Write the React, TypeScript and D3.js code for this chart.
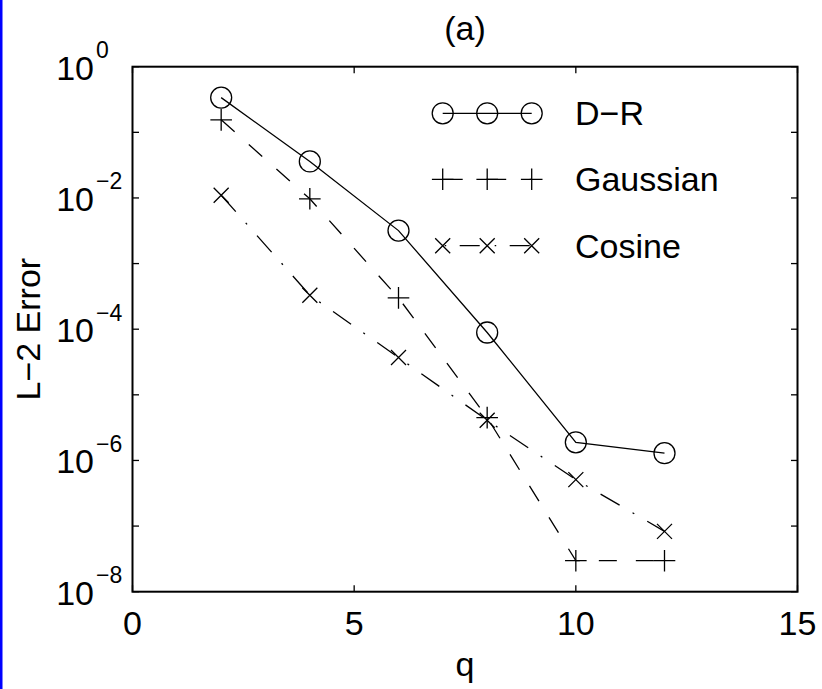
import React from "react";
import * as d3 from "d3";

const qValues = [2, 4, 6, 8, 10, 12];
const drValues = [0.338, 0.036, 3.18e-3, 8.9e-5, 1.89e-6, 1.29e-6];
const gaussianValues = [0.155, 9.7e-3, 3.0e-4, 4.5e-6, 2.97e-8, 2.97e-8];
const cosineValues = [0.011, 3.3e-4, 3.7e-5, 4.1e-6, 5.1e-7, 8.3e-8];

const seriesNames = ["D\u2212R", "Gaussian", "Cosine"];
const xTicks = [0, 5, 10, 15];
const yTickExps = [0, -1, -2, -3, -4, -5, -6, -7, -8];
const yLabelExps = [0, -2, -4, -6, -8];

const W = 822;
const H = 689;
const FONT = "'Liberation Sans', Arial, Helvetica, sans-serif";

const left = 132.5;
const right = 797.5;
const top = 66.7;
const bottom = 591.7;

const x = d3.scaleLinear().domain([0, 15]).range([left, right]);
const y = d3.scaleLog().domain([1e-8, 1]).range([bottom, top]);

type MarkerKind = "circle" | "plus" | "cross";

function Marker({ kind, cx, cy }: { kind: MarkerKind; cx: number; cy: number }) {
  const sw = 1.3;
  if (kind === "circle") {
    return <circle cx={cx} cy={cy} r={10.5} fill="none" stroke="#000" strokeWidth={sw} />;
  }
  if (kind === "plus") {
    const a = 10.8;
    return (
      <path
        d={`M${cx - a},${cy}H${cx + a}M${cx},${cy - a}V${cy + a}`}
        stroke="#000"
        strokeWidth={sw}
        fill="none"
      />
    );
  }
  const a = 7.5;
  return (
    <path
      d={`M${cx - a},${cy - a}L${cx + a},${cy + a}M${cx - a},${cy + a}L${cx + a},${cy - a}`}
      stroke="#000"
      strokeWidth={sw}
      fill="none"
    />
  );
}

const series = [
  {
    name: seriesNames[0],
    values: drValues,
    marker: "circle" as MarkerKind,
    dash: undefined as string | undefined,
    legendDash: undefined as string | undefined,
    legendOffset: 0,
  },
  {
    name: seriesNames[1],
    values: gaussianValues,
    marker: "plus" as MarkerKind,
    dash: "18,19",
    legendDash: "20,23.5",
    legendOffset: 0,
  },
  {
    name: seriesNames[2],
    values: cosineValues,
    marker: "cross" as MarkerKind,
    dash: "22,15,2,15",
    legendDash: "20,15,1.5,13.5",
    legendOffset: 33,
  },
];

const legendRowsY = [113.3, 179.3, 245.7];
const legendX0 = 442.7;
const legendX1 = 531.7;

export default function App() {
  const line = d3
    .line<number>()
    .x((_, i) => x(qValues[i]))
    .y((v) => y(v));

  const tick = 6.5;

  return (
    <svg
      width={W}
      height={H}
      viewBox={`0 0 ${W} ${H}`}
      style={{ position: "absolute", left: 0, top: 0, background: "#fff" }}
      fontFamily={FONT}
    >
      <rect x={0} y={0} width={W} height={H} fill="#fff" />
      <rect x={0} y={0} width={2.5} height={H} fill="#0000ff" />

      {/* data lines */}
      {series.map((s) => (
        <path
          key={s.name + "-line"}
          d={line(s.values) || ""}
          fill="none"
          stroke="#000"
          strokeWidth={1.3}
          strokeDasharray={s.dash}
        />
      ))}
      {series.map((s) =>
        s.values.map((v, i) => (
          <Marker key={s.name + i} kind={s.marker} cx={x(qValues[i])} cy={y(v)} />
        ))
      )}

      {/* legend */}
      {series.map((s, k) => {
        const ly = legendRowsY[k];
        const mid = (legendX0 + legendX1) / 2;
        return (
          <g key={s.name + "-legend"}>
            <line
              x1={legendX0}
              x2={legendX1}
              y1={ly}
              y2={ly}
              stroke="#000"
              strokeWidth={1.3}
              strokeDasharray={s.legendDash}
              strokeDashoffset={s.legendOffset}
            />
            <Marker kind={s.marker} cx={legendX0} cy={ly} />
            <Marker kind={s.marker} cx={mid} cy={ly} />
            <Marker kind={s.marker} cx={legendX1} cy={ly} />
            <text x={575} y={ly + 12} fontSize={34} fill="#000">
              {s.name}
            </text>
          </g>
        );
      })}

      {/* ticks */}
      {xTicks.map((t) => (
        <g key={"xt" + t}>
          <line x1={x(t)} x2={x(t)} y1={bottom} y2={bottom - tick} stroke="#000" strokeWidth={1.3} />
          <line x1={x(t)} x2={x(t)} y1={top} y2={top + tick} stroke="#000" strokeWidth={1.3} />
          <text x={x(t)} y={635} fontSize={34} textAnchor="middle" fill="#000">
            {t}
          </text>
        </g>
      ))}
      {yTickExps.map((e) => {
        const yy = y(Math.pow(10, e));
        return (
          <g key={"yt" + e}>
            <line x1={left} x2={left + tick} y1={yy} y2={yy} stroke="#000" strokeWidth={1.3} />
            <line x1={right} x2={right - tick} y1={yy} y2={yy} stroke="#000" strokeWidth={1.3} />
          </g>
        );
      })}
      {yLabelExps.map((e) => {
        const yy = y(Math.pow(10, e));
        const expText = e < 0 ? "\u2212" + Math.abs(e) : String(e);
        return (
          <g key={"yl" + e}>
            <text x={94} y={yy + 13} fontSize={34} textAnchor="end" fill="#000">
              10
            </text>
            <text x={96} y={yy - 8.5} fontSize={23} fill="#000">
              {expText}
            </text>
          </g>
        );
      })}

      {/* frame */}
      <rect
        x={left}
        y={top}
        width={right - left}
        height={bottom - top}
        fill="none"
        stroke="#000"
        strokeWidth={2}
      />

      {/* titles */}
      <text x={(left + right) / 2} y={40} fontSize={34} textAnchor="middle" fill="#000">
        (a)
      </text>
      <text x={(left + right) / 2} y={675.5} fontSize={34} textAnchor="middle" fill="#000">
        q
      </text>
      <text
        transform={`translate(40, ${(top + bottom) / 2}) rotate(-90)`}
        fontSize={34}
        textAnchor="middle"
        fill="#000"
      >
        L{"\u2212"}2 Error
      </text>
    </svg>
  );
}
